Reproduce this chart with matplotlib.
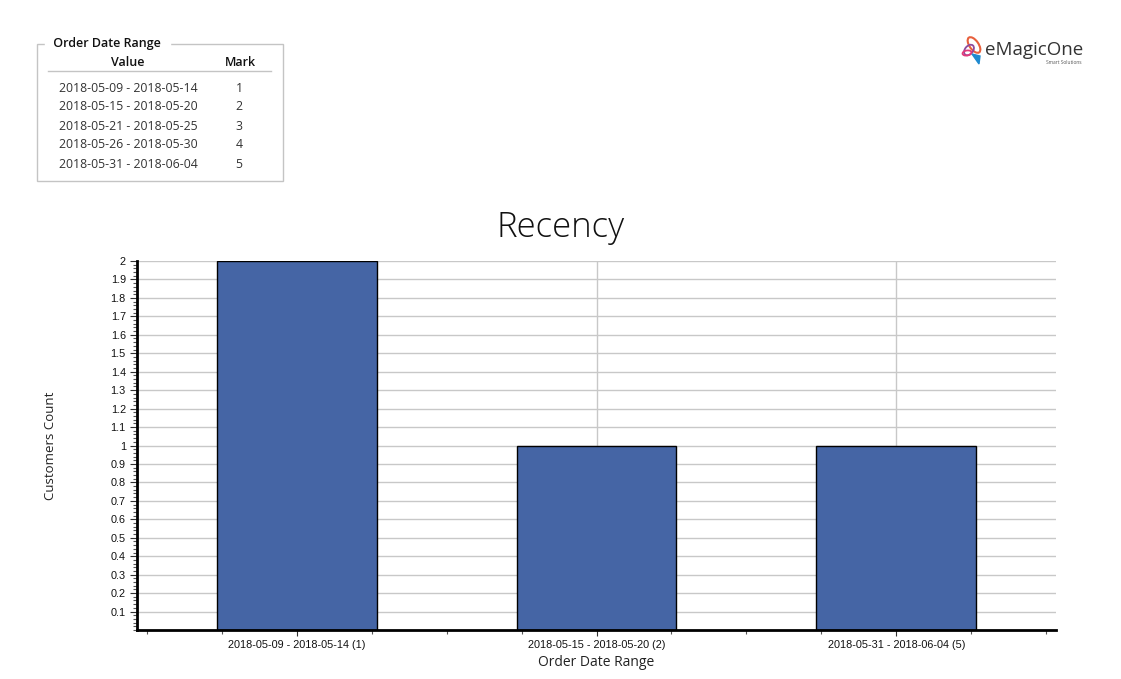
import numpy as np
import matplotlib
matplotlib.use("Agg")
import matplotlib.pyplot as plt
from matplotlib.patches import Rectangle, Ellipse, Polygon
from matplotlib.ticker import MultipleLocator, FixedLocator

# data
categories = ["2018-05-09 - 2018-05-14 (1)",
              "2018-05-15 - 2018-05-20 (2)",
              "2018-05-31 - 2018-06-04 (5)"]
counts = [2, 1, 1]

range_values = ["2018-05-09 - 2018-05-14", "2018-05-15 - 2018-05-20",
                "2018-05-21 - 2018-05-25", "2018-05-26 - 2018-05-30",
                "2018-05-31 - 2018-06-04"]
range_marks = ["1", "2", "3", "4", "5"]

W, H = 1121, 679
fig = plt.figure(figsize=(W / 100, H / 100), dpi=100)

# main chart
ax = fig.add_axes([137 / W, 1 - 630 / H, (1056 - 137) / W, (630 - 261) / H])
x = np.arange(len(categories))
ax.bar(x, counts, width=0.533, color="#4565a5", edgecolor="black", linewidth=1, zorder=3)
ax.set_xlim(-0.533, len(categories) - 1 + 0.533)
ax.set_ylim(0, 2)

yt = np.round(np.arange(0.1, 2.01, 0.1), 1)
ax.xaxis.set_major_locator(FixedLocator(x))
ax.xaxis.set_minor_locator(MultipleLocator(0.25))
ax.set_xticklabels(categories)
ax.yaxis.set_major_locator(FixedLocator(yt))
ax.yaxis.set_minor_locator(MultipleLocator(0.02))
ax.set_yticklabels([f"{v:g}" for v in yt])

for lbl in ax.get_xticklabels() + ax.get_yticklabels():
    lbl.set_fontfamily("Liberation Sans")
    lbl.set_fontsize(7.8)
    lbl.set_color("#111111")

ax.tick_params(axis="both", which="major", length=5, width=0.8, color="#333333", pad=3)
ax.tick_params(axis="both", which="minor", length=3, width=0.8, color="#555555")
ax.tick_params(axis="x", which="major", length=4)

ax.grid(True, which="major", axis="both", color="#c8c8c8", linewidth=1, zorder=0)
for s in ["top", "right"]:
    ax.spines[s].set_visible(False)
for s in ["left", "bottom"]:
    ax.spines[s].set_linewidth(2)
    ax.spines[s].set_color("black")
    ax.spines[s].set_zorder(4)

ax.set_ylabel("Customers Count", fontsize=9.5, family="Open Sans", color="#222222")
ax.set_xlabel("Order Date Range", fontsize=10, family="Open Sans", color="#222222", labelpad=4)
ax.yaxis.set_label_coords(-80 / (1056 - 137), 0.5)

# overlay in pixel coordinates
ov = fig.add_axes([0, 0, 1, 1], zorder=10)
ov.set_xlim(0, W)
ov.set_ylim(H, 0)
ov.axis("off")

# chart title, centred on the whole figure
ov.text(561, 237, "Recency", fontsize=25, family="Open Sans", fontweight="light",
        color="#111111", ha="center", va="baseline")

# legend table box
ov.add_patch(Rectangle((37, 44), 283 - 37, 181 - 44, fill=False, edgecolor="#c4c4c4", linewidth=1))
ov.text(50, 44, " Order Date Range ", fontsize=9, family="Open Sans", fontweight="semibold",
        color="#111111", va="center", ha="left", backgroundcolor="white")
ov.text(128, 62, "Value", fontsize=9, family="Open Sans", fontweight="semibold",
        color="#111111", va="center", ha="center")
ov.text(240, 62, "Mark", fontsize=9, family="Open Sans", fontweight="semibold",
        color="#111111", va="center", ha="center")
ov.plot([48, 271], [71, 71], color="#c4c4c4", linewidth=1)
for i, (v, m) in enumerate(zip(range_values, range_marks)):
    yy = 88 + i * 19
    ov.text(128, yy, v, fontsize=8.8, family="Open Sans", color="#333333", va="center", ha="center")
    ov.text(239, yy, m, fontsize=8.8, family="Open Sans", color="#333333", va="center", ha="center")

# logo
ov.add_patch(Ellipse((974, 45), 9, 18, angle=-35, fill=False, edgecolor="#e8603c", linewidth=1.5))
ov.add_patch(Ellipse((969, 50), 8, 12, angle=40, fill=False, edgecolor="#8e4a9e", linewidth=1.3))
ov.add_patch(Ellipse((967, 53), 9, 5, angle=-10, fill=False, edgecolor="#e23a7a", linewidth=1.3))
ov.add_patch(Polygon([[972, 54], [980, 56], [979, 64]], closed=True, color="#1e8ad0"))
ov.text(985, 50, "eMagicOne", fontsize=13.5, family="Open Sans", color="#333333", va="center", ha="left")
ov.text(1082, 62, "Smart Solutions", fontsize=3.5, family="Open Sans", color="#555555", va="center", ha="right")

fig.savefig("out.png", dpi=100)
